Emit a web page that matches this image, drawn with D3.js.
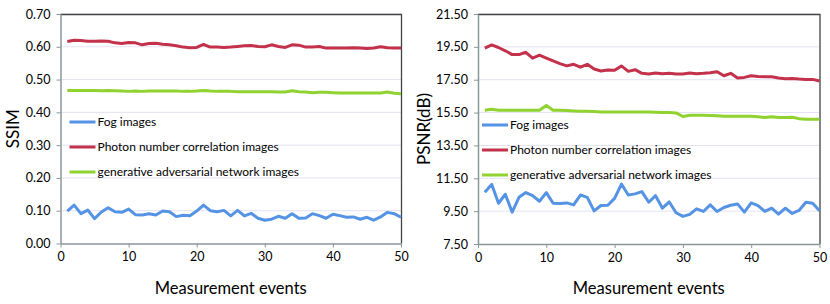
<!DOCTYPE html>
<script src="https://d3js.org/d3.v7.min.js"></script>
<meta charset="utf-8">
<style>
  body { margin: 0; background: #fff; }
  text { font-family: Lato, "Open Sans", sans-serif; fill: #000; }
</style>
<div id="chart"></div>
<script>

    // measurement events 1..50
    var events = d3.range(1, 51);

    var seriesNames = ["Fog images", "Photon number correlation images", "generative adversarial network images"];
    var colors = ["#5593e4", "#c3314a", "#90d22f"];

    // SSIM values
    var ssimFog = [0.099, 0.117, 0.091, 0.102, 0.076, 0.096, 0.109, 0.097, 0.095, 0.105,
        0.088, 0.087, 0.091, 0.087, 0.099, 0.097, 0.082, 0.086, 0.085, 0.099,
        0.117, 0.100, 0.097, 0.101, 0.084, 0.101, 0.084, 0.092, 0.077, 0.071,
        0.074, 0.083, 0.077, 0.091, 0.077, 0.078, 0.091, 0.085, 0.077, 0.089,
        0.085, 0.080, 0.081, 0.074, 0.080, 0.071, 0.081, 0.095, 0.091, 0.080];
    var ssimPhoton = [0.616, 0.620, 0.619, 0.617, 0.617, 0.618, 0.617, 0.612, 0.610, 0.613,
        0.612, 0.606, 0.610, 0.611, 0.608, 0.606, 0.603, 0.599, 0.597, 0.598,
        0.607, 0.599, 0.599, 0.598, 0.599, 0.601, 0.603, 0.604, 0.601, 0.600,
        0.606, 0.601, 0.598, 0.606, 0.605, 0.599, 0.599, 0.601, 0.596, 0.596,
        0.596, 0.596, 0.597, 0.596, 0.595, 0.596, 0.600, 0.597, 0.596, 0.596];
    var ssimGan = [0.467, 0.467, 0.467, 0.467, 0.467, 0.466, 0.467, 0.466, 0.465, 0.464,
        0.465, 0.464, 0.465, 0.465, 0.465, 0.465, 0.465, 0.464, 0.464, 0.465,
        0.467, 0.465, 0.464, 0.464, 0.464, 0.463, 0.463, 0.463, 0.463, 0.463,
        0.463, 0.462, 0.462, 0.466, 0.463, 0.462, 0.460, 0.461, 0.461, 0.460,
        0.459, 0.459, 0.459, 0.459, 0.459, 0.459, 0.459, 0.462, 0.458, 0.457];

    // PSNR values (dB)
    var psnrFog = [10.65, 11.13, 9.98, 10.53, 9.44, 10.34, 10.63, 10.44, 10.10, 10.63,
        9.98, 9.96, 10.00, 9.88, 10.48, 10.34, 9.52, 9.84, 9.86, 10.28,
        11.15, 10.48, 10.55, 10.69, 10.04, 10.44, 9.68, 10.06, 9.40, 9.18,
        9.30, 9.64, 9.48, 9.88, 9.48, 9.72, 9.86, 9.94, 9.44, 10.00,
        9.84, 9.48, 9.68, 9.32, 9.68, 9.36, 9.54, 10.04, 9.98, 9.52];
    var psnrPhoton = [19.42, 19.62, 19.46, 19.26, 19.03, 19.03, 19.17, 18.81, 18.99, 18.81,
        18.64, 18.48, 18.34, 18.44, 18.26, 18.44, 18.15, 18.03, 18.09, 18.07,
        18.34, 18.01, 18.11, 17.89, 17.85, 17.91, 17.87, 17.89, 17.85, 17.85,
        17.91, 17.87, 17.89, 17.93, 17.99, 17.74, 17.89, 17.60, 17.64, 17.74,
        17.70, 17.68, 17.68, 17.60, 17.56, 17.58, 17.54, 17.52, 17.52, 17.42];
    var psnrGan = [15.64, 15.70, 15.64, 15.64, 15.64, 15.64, 15.64, 15.64, 15.64, 15.93,
        15.64, 15.64, 15.62, 15.60, 15.58, 15.58, 15.56, 15.54, 15.54, 15.54,
        15.54, 15.54, 15.54, 15.54, 15.53, 15.52, 15.51, 15.50, 15.48, 15.26,
        15.34, 15.33, 15.33, 15.32, 15.30, 15.28, 15.28, 15.28, 15.28, 15.27,
        15.24, 15.20, 15.24, 15.20, 15.20, 15.21, 15.13, 15.09, 15.09, 15.09];

    var ssimTicks = [0, 0.1, 0.2, 0.3, 0.4, 0.5, 0.6, 0.7];
    var psnrTicks = [7.5, 9.5, 11.5, 13.5, 15.5, 17.5, 19.5, 21.5];
    var xTicks = [0, 10, 20, 30, 40, 50];

    var svg = d3.select("#chart")
        .append("svg")
        .attr("width", 830)
        .attr("height", 304);

    function drawPanel(opts) {
        var g = svg.append("g")
            .attr("transform", "translate(" + opts.left + "," + opts.top + ")");
        var w = opts.width, h = opts.height;

        var x = d3.scaleLinear().domain([0, 50]).range([0, w]);
        var y = d3.scaleLinear().domain(opts.yDomain).range([h, 0]);

        // gridlines
        g.selectAll(".grid")
            .data(opts.yTicks.slice(1))
            .enter()
            .append("line")
            .attr("x1", 0).attr("x2", w)
            .attr("y1", d => y(d)).attr("y2", d => y(d))
            .attr("stroke", "#e4e2f3")
            .attr("stroke-width", 1);

        // top/right border
        g.append("path")
            .attr("d", "M0," + 0.5 + "H" + (w + 0.5) + "V" + h)
            .attr("fill", "none")
            .attr("stroke", "#404444")
            .attr("stroke-width", 1.3);

        // y axis
        var yAxis = g.append("g")
            .call(d3.axisLeft(y).tickValues(opts.yTicks).tickFormat(d3.format(".2f")).tickSize(4).tickSizeOuter(0));
        // x axis
        var xAxis = g.append("g")
            .attr("transform", "translate(0," + h + ")")
            .call(d3.axisBottom(x).tickValues(xTicks).tickSize(4).tickSizeOuter(0));
        [yAxis, xAxis].forEach(function (a) {
            a.select(".domain").attr("stroke", "#8a9797").attr("stroke-width", 1.5);
            a.selectAll(".tick line").attr("stroke", "#8a9797");
            a.selectAll(".tick text")
                .style("font-family", "Lato, sans-serif")
                .style("font-size", "12.5px")
                .attr("fill", "#000");
        });
        yAxis.selectAll(".tick text").attr("x", -10);
        xAxis.selectAll(".tick text").attr("y", 9);

        // lines
        var line = d3.line()
            .x(function (d, i) { return x(events[i]); })
            .y(function (d) { return y(d); });
        opts.series.forEach(function (s, i) {
            g.append("path")
                .datum(s)
                .attr("d", line)
                .attr("fill", "none")
                .attr("stroke", colors[i])
                .attr("stroke-width", 3)
                .attr("stroke-linejoin", "round");
        });

        // legend
        seriesNames.forEach(function (n, i) {
            var ly = opts.legendY + i * 25;
            g.append("line")
                .attr("x1", opts.legendX).attr("x2", opts.legendX + 26)
                .attr("y1", ly).attr("y2", ly)
                .attr("stroke", colors[i])
                .attr("stroke-width", 3);
            g.append("text")
                .attr("x", opts.legendX + 28)
                .attr("y", ly)
                .attr("dy", "0.35em")
                .style("font-size", "12px")
                .text(n);
        });

        // axis titles
        svg.append("text")
            .attr("transform", "translate(" + opts.yTitleX + "," + (opts.top + h / 2) + ")rotate(-90)")
            .attr("text-anchor", "middle")
            .attr("dy", "0.35em")
            .style("font-size", "17px")
            .text(opts.yTitle);
        svg.append("text")
            .attr("x", opts.left + w / 2)
            .attr("y", 294)
            .attr("text-anchor", "middle")
            .style("font-size", "16.5px")
            .text("Measurement events");
    }

    drawPanel({
        left: 60.5, top: 14, width: 340.5, height: 229.5,
        yDomain: [0, 0.7], yTicks: ssimTicks,
        series: [ssimFog, ssimPhoton, ssimGan],
        legendX: 9, legendY: 108,
        yTitle: "SSIM", yTitleX: 13
    });

    drawPanel({
        left: 478, top: 14, width: 341.5, height: 230,
        yDomain: [7.5, 21.5], yTicks: psnrTicks,
        series: [psnrFog, psnrPhoton, psnrGan],
        legendX: 4, legendY: 111,
        yTitle: "PSNR(dB)", yTitleX: 424
    });

</script>
